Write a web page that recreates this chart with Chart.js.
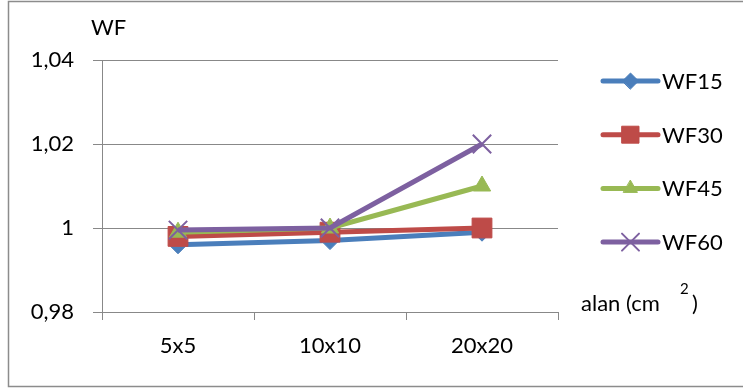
<!DOCTYPE html>
<html>
<head>
<meta charset="utf-8">
<script src="https://cdn.jsdelivr.net/npm/chart.js@4/dist/chart.umd.min.js"></script>
<style>
  html, body { margin: 0; padding: 0; background: #fff; }
  #wrap { width: 743px; height: 392px; position: relative; }
</style>
</head>
<body>
<div id="wrap"><canvas id="c" width="743" height="392"></canvas></div>
<script>
// Field sizes (cm x cm) and wedge factors per wedge angle
const categories = ['5x5', '10x10', '20x20'];
const wf15 = [0.996, 0.997, 0.999];
const wf30 = [0.998, 0.999, 1.000];
const wf45 = [0.999, 1.000, 1.010];
const wf60 = [0.9995, 1.000, 1.020];
const yTicks = [0.98, 1.00, 1.02, 1.04];
const yTitle = 'WF';
const xTitle = 'alan (cm';
const xTitleSup = '2';

const FONT = 'Lato, "Open Sans", sans-serif';
const FS = 22;
const GRID = '#888888';

const series = [
  { label: 'WF15', data: wf15, color: '#4A7EBB', style: 'rectRot', radius: 9, order: 3 },
  { label: 'WF30', data: wf30, color: '#BE4B48', style: 'rect', radius: 14, order: 2 },
  { label: 'WF45', data: wf45, color: '#98B954', style: 'triangle', radius: 10, order: 1 },
  { label: 'WF60', data: wf60, color: '#7D60A0', style: 'crossRot', radius: 13, order: 0 }
];

const decorations = {
  id: 'decorations',
  beforeDraw(chart) {
    const ctx = chart.ctx;
    ctx.save();
    ctx.fillStyle = '#fff';
    ctx.fillRect(0, 0, chart.width, chart.height);
    ctx.strokeStyle = '#8c8c8c';
    ctx.lineWidth = 1.5;
    ctx.strokeRect(8.5, 1.5, 740, 385);
    ctx.restore();
  },
  afterDraw(chart) {
    const ctx = chart.ctx;
    ctx.save();
    ctx.fillStyle = '#000';
    ctx.textBaseline = 'middle';
    ctx.textAlign = 'left';
    ctx.font = FS + 'px ' + FONT;
    ctx.fillText(yTitle, 91, 28);

    // legend
    const lx0 = 603, lx1 = 658, ly0 = 81, step = 53.7;
    series.forEach((s, i) => {
      const y = ly0 + i * step;
      ctx.strokeStyle = s.color;
      ctx.lineWidth = 5;
      ctx.lineCap = 'round';
      ctx.beginPath();
      ctx.moveTo(lx0, y);
      ctx.lineTo(lx1, y);
      ctx.stroke();
      ctx.fillStyle = s.color;
      ctx.lineWidth = s.style === 'crossRot' ? 2 : 1;
      Chart.helpers.drawPoint(ctx, {
        pointStyle: s.style,
        radius: s.style === 'rect' ? 12 : (s.style === 'crossRot' ? 12 : 8),
        rotation: 0,
        borderWidth: ctx.lineWidth
      }, (lx0 + lx1) / 2, y);
      ctx.fillStyle = '#000';
      ctx.font = FS + 'px ' + FONT;
      ctx.fillText(s.label, 662, y + 1);
    });

    // x axis title with superscript
    ctx.font = FS + 'px ' + FONT;
    ctx.fillText(xTitle, 581, 304);
    ctx.font = '15px ' + FONT;
    ctx.fillText(xTitleSup, 680, 289);
    ctx.font = FS + 'px ' + FONT;
    ctx.fillText(')', 692, 304);
    ctx.restore();
  }
};

new Chart(document.getElementById('c'), {
  type: 'line',
  data: {
    labels: categories,
    datasets: series.map(s => ({
      label: s.label,
      data: s.data,
      borderColor: s.color,
      backgroundColor: s.color,
      borderWidth: 5,
      pointStyle: s.style,
      pointRadius: s.radius,
      pointBorderWidth: s.style === 'crossRot' ? 2 : 1,
      pointBorderColor: s.color,
      pointBackgroundColor: s.color,
      tension: 0,
      order: s.order
    }))
  },
  options: {
    responsive: false,
    animation: false,
    devicePixelRatio: 1,
    layout: { padding: { left: 0, top: 60, right: 185, bottom: 0 } },
    plugins: { legend: { display: false }, tooltip: { enabled: false } },
    scales: {
      x: {
        offset: true,
        afterFit(scale) { scale.height = 80; },
        grid: {
          offset: true,
          drawOnChartArea: false,
          drawTicks: true,
          tickLength: 8,
          color: GRID,
          lineWidth: 1
        },
        border: { display: true, color: GRID, width: 1 },
        ticks: {
          color: '#000',
          font: { family: FONT, size: FS },
          padding: 13,
          maxRotation: 0
        }
      },
      y: {
        min: 0.98,
        max: 1.04,
        afterFit(scale) { scale.width = 102; },
        afterBuildTicks(scale) { scale.ticks = yTicks.map(v => ({ value: v })); },
        grid: {
          color: GRID,
          lineWidth: 1,
          tickLength: 9,
          drawTicks: true
        },
        border: { display: true, color: GRID, width: 1 },
        ticks: {
          color: '#000',
          font: { family: FONT, size: FS },
          padding: 19,
          callback: v => {
            const r = Math.round(v * 100) / 100;
            return r === 1 ? '1' : r.toFixed(2).replace('.', ',');
          }
        }
      }
    }
  },
  plugins: [decorations]
});
</script>
</body>
</html>
